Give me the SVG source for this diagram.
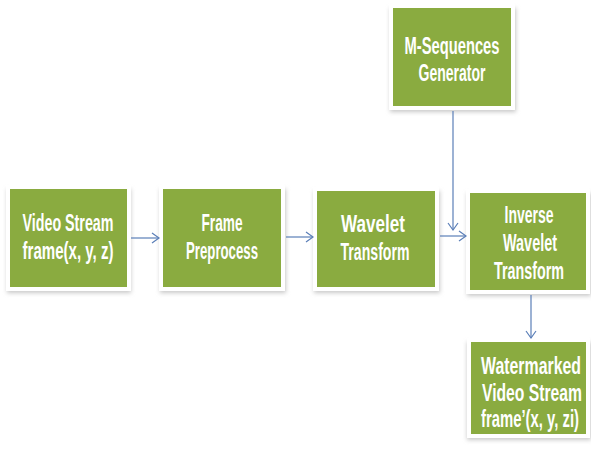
<svg xmlns="http://www.w3.org/2000/svg" width="591" height="450" viewBox="0 0 591 450">
<defs>
<filter id="sh" x="-10%" y="-10%" width="130%" height="130%">
<feGaussianBlur stdDeviation="2"/>
</filter>
<marker id="ah" markerWidth="12" markerHeight="12" refX="10" refY="6" orient="auto" markerUnits="userSpaceOnUse">
<path d="M3,1 L10,6 L3,11" fill="none" stroke="#5b7fb8" stroke-width="1.2"/>
</marker>
</defs>
<style>
.shadow{fill:#c8c8c8;filter:url(#sh)}
.box{fill:#8aab40;stroke:#ffffff;stroke-width:4}
.t{fill:#ffffff;font-family:"Liberation Sans",Arial,sans-serif;font-size:23px;font-weight:bold;text-anchor:middle}
.c{fill:none;stroke:#5b7fb8;stroke-width:1.2;marker-end:url(#ah)}
</style>
<rect width="591" height="450" fill="#ffffff"/>
<g id="video">
<rect class="shadow" x="7" y="189" width="124" height="104"/>
<rect class="box" x="8" y="187" width="121" height="102"/>
<text class="t" x="68" y="231" textLength="91" lengthAdjust="spacingAndGlyphs">Video Stream</text>
<text class="t" x="68" y="259" textLength="91" lengthAdjust="spacingAndGlyphs">frame(x, y, z)</text>
</g>
<g id="preprocess">
<rect class="shadow" x="160" y="189" width="126" height="104"/>
<rect class="box" x="161" y="187" width="122" height="102"/>
<text class="t" x="222" y="231" textLength="41" lengthAdjust="spacingAndGlyphs">Frame</text>
<text class="t" x="222" y="259" textLength="72" lengthAdjust="spacingAndGlyphs">Preprocess</text>
</g>
<g id="wavelet">
<rect class="shadow" x="314" y="191" width="126" height="102"/>
<rect class="box" x="315" y="189" width="122" height="100"/>
<text class="t" x="373" y="232" textLength="64" lengthAdjust="spacingAndGlyphs">Wavelet</text>
<text class="t" x="375" y="260" textLength="69" lengthAdjust="spacingAndGlyphs">Transform</text>
</g>
<g id="mseq">
<rect class="shadow" x="390" y="8" width="126" height="104"/>
<rect class="box" x="391" y="6" width="122" height="102"/>
<text class="t" x="452" y="54" textLength="95" lengthAdjust="spacingAndGlyphs">M-Sequences</text>
<text class="t" x="452" y="81" textLength="67" lengthAdjust="spacingAndGlyphs">Generator</text>
</g>
<g id="inverse">
<rect class="shadow" x="467" y="193" width="124" height="103"/>
<rect class="box" x="468" y="191" width="120" height="101"/>
<text class="t" x="529" y="223" textLength="49" lengthAdjust="spacingAndGlyphs">Inverse</text>
<text class="t" x="530" y="251" textLength="54" lengthAdjust="spacingAndGlyphs">Wavelet</text>
<text class="t" x="529" y="279" textLength="70" lengthAdjust="spacingAndGlyphs">Transform</text>
</g>
<g id="watermarked">
<rect class="shadow" x="467" y="342" width="124" height="98"/>
<rect class="box" x="469" y="340" width="119" height="96"/>
<text class="t" x="531" y="374" textLength="100" lengthAdjust="spacingAndGlyphs">Watermarked</text>
<text class="t" x="532" y="401" textLength="100" lengthAdjust="spacingAndGlyphs">Video Stream</text>
<text class="t" x="530" y="427" textLength="98" lengthAdjust="spacingAndGlyphs">frame’(x, y, zi)</text>
</g>
<g id="connectors">
<line class="c" x1="131" y1="238" x2="159" y2="238"/>
<line class="c" x1="286" y1="237" x2="313" y2="237"/>
<line class="c" x1="440" y1="236" x2="466" y2="236"/>
<line class="c" x1="453" y1="111" x2="453" y2="230"/>
<line class="c" x1="531" y1="295" x2="531" y2="338"/>
</g>
</svg>
